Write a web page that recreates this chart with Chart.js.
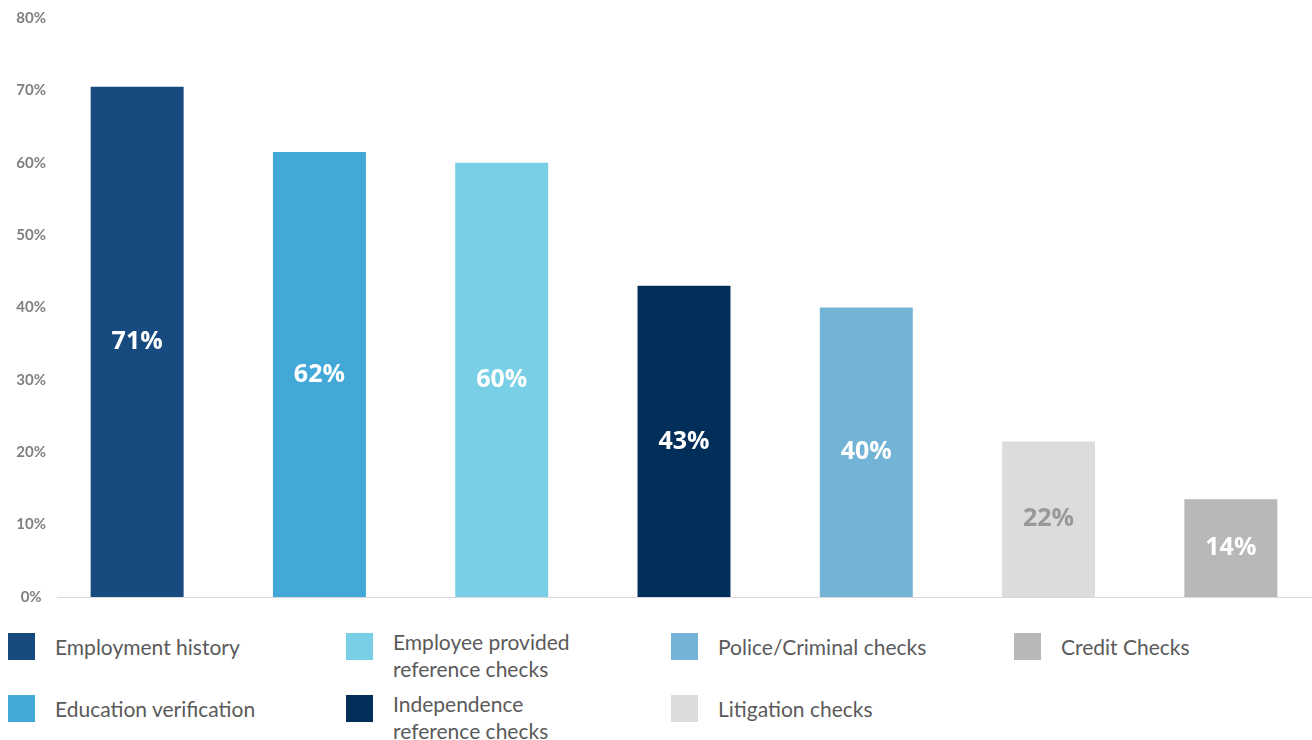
<!DOCTYPE html>
<html>
<head>
<meta charset="utf-8">
<script src="https://cdn.jsdelivr.net/npm/chart.js@4.4.1/dist/chart.umd.min.js"></script>
<style>
  html, body { margin: 0; padding: 0; background: #fff; overflow: hidden; width: 1312px; height: 740px; }
  #wrap { position: absolute; left: 0; top: 0; width: 1322px; height: 611px; }
  #legend { position: absolute; left: 0; top: 628px; width: 1312px; height: 112px; font-family: Lato, "Noto Sans", sans-serif; font-size: 21px; color: #5A5A5A; }
  .sw { position: absolute; width: 27px; height: 27px; }
  .txt { position: absolute; line-height: 27px; white-space: nowrap; }
</style>
</head>
<body>
<div id="wrap"><canvas id="chart"></canvas></div>
<div id="legend"></div>
<script>
// categories + values
var categories = ["Employment history", "Education verification", "Employee provided reference checks", "Independence reference checks", "Police/Criminal checks", "Litigation checks", "Credit Checks"];
var values = [70.5, 61.5, 60, 43, 40, 21.5, 13.5];
var valueLabels = ["71%", "62%", "60%", "43%", "40%", "22%", "14%"];
var barColors = ["#174A7E", "#41A8D8", "#78CFE6", "#012F5A", "#72B3D6", "#DCDCDC", "#B8B8B8"];
var labelColors = ["#fff", "#fff", "#fff", "#fff", "#fff", "#999999", "#fff"];
var yTicks = [0, 10, 20, 30, 40, 50, 60, 70, 80];

// legend: column-major, 2 rows
var legendOrder = [0, 1, 2, 3, 4, 5, 6];
var legendLines = [["Employment history"], ["Education verification"], ["Employee provided", "reference checks"], ["Independence", "reference checks"], ["Police/Criminal checks"], ["Litigation checks"], ["Credit Checks"]];
var colX = [8, 346, 671, 1014];
var rowY = [5, 67];

var legend = document.getElementById("legend");
legendOrder.forEach(function (idx, n) {
  var col = Math.floor(n / 2), row = n % 2;
  var sw = document.createElement("div");
  sw.className = "sw";
  sw.style.left = colX[col] + "px";
  sw.style.top = rowY[row] + "px";
  sw.style.background = barColors[idx];
  legend.appendChild(sw);
  var t = document.createElement("div");
  t.className = "txt";
  t.style.left = (colX[col] + 47) + "px";
  var lines = legendLines[idx];
  var shift = lines.length > 1 ? 5 : 0;
  t.style.top = (rowY[row] - shift) + "px";
  t.innerHTML = lines.join("<br>");
  legend.appendChild(t);
});

// baseline starts a bit right of the plot's left edge, like the original
var baseLine = {
  id: "baseLine",
  beforeDatasetsDraw: function (chart) {
    var ctx = chart.ctx, a = chart.chartArea;
    var y = chart.scales.y.getPixelForValue(0);
    ctx.save();
    ctx.strokeStyle = "#D9D9D9";
    ctx.lineWidth = 1;
    ctx.beginPath();
    ctx.moveTo(57, Math.round(y) + 0.5);
    ctx.lineTo(a.right, Math.round(y) + 0.5);
    ctx.stroke();
    ctx.restore();
  }
};

var barLabels = {
  id: "barLabels",
  afterDatasetsDraw: function (chart) {
    var ctx = chart.ctx;
    var meta = chart.getDatasetMeta(0);
    ctx.save();
    ctx.font = "bold 25px 'Open Sans', Lato, sans-serif";
    ctx.textAlign = "center";
    ctx.textBaseline = "middle";
    meta.data.forEach(function (bar, i) {
      ctx.fillStyle = labelColors[i];
      ctx.fillText(valueLabels[i], bar.x, (bar.y + bar.base) / 2);
    });
    ctx.restore();
  }
};

new Chart("chart", {
  type: "bar",
  data: {
    labels: categories,
    datasets: [{
      data: values,
      backgroundColor: barColors,
      barPercentage: 0.51,
      categoryPercentage: 1
    }]
  },
  options: {
    responsive: true,
    maintainAspectRatio: false,
    animation: false,
    layout: { padding: { top: 18, bottom: 6, right: 0, left: 0 } },
    plugins: { legend: { display: false }, tooltip: { enabled: false } },
    scales: {
      x: {
        grid: { display: false },
        ticks: { display: false },
        border: { display: false }
      },
      y: {
        min: 0,
        max: 80,
        afterBuildTicks: function (scale) {
          scale.ticks = yTicks.map(function (v) { return { value: v }; });
        },
        afterFit: function (scale) { scale.width = 46; },
        grid: { display: false, drawTicks: false },
        border: { display: false },
        ticks: {
          crossAlign: "center",
          padding: 0,
          color: "#7F7F7F",
          font: { family: "Lato, 'Noto Sans', sans-serif", size: 15, weight: "bold" },
          callback: function (v) { return v + "%"; }
        }
      }
    }
  },
  plugins: [baseLine, barLabels]
});
</script>
</body>
</html>
